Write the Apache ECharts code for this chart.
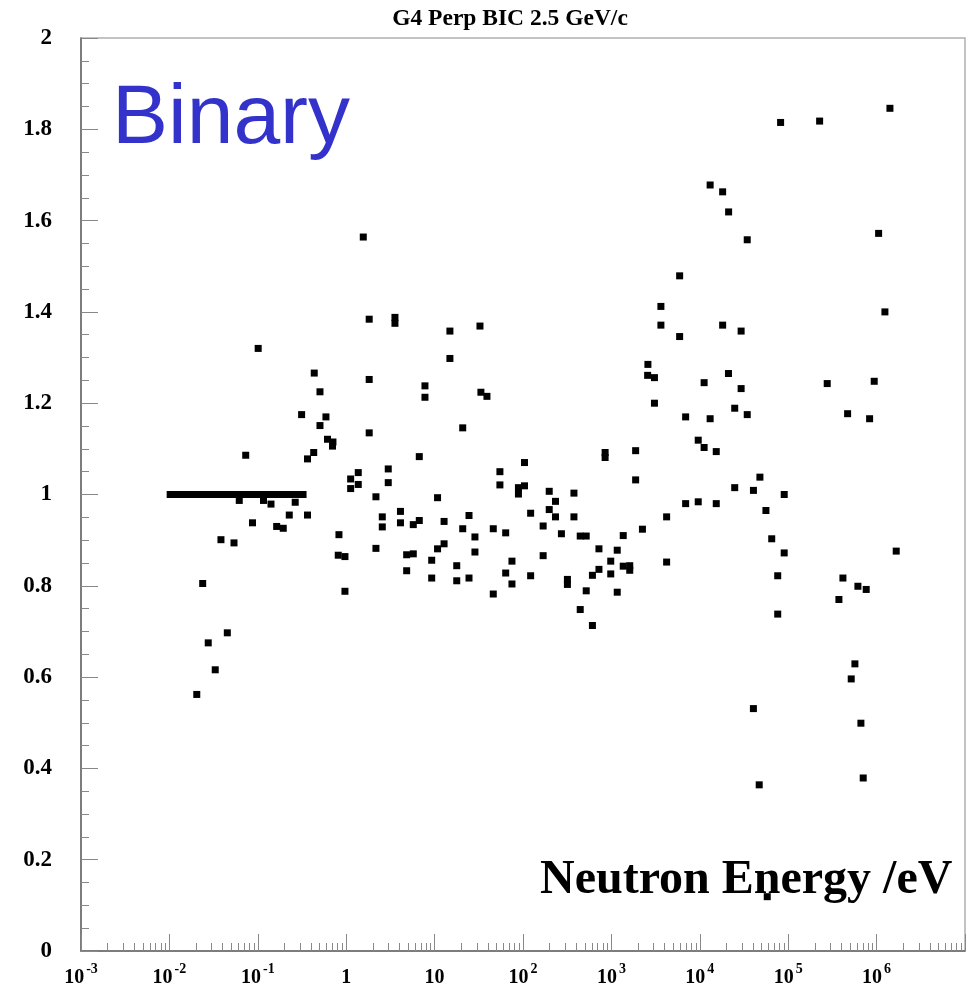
<!DOCTYPE html>
<html><head><meta charset="utf-8">
<script src="https://cdn.jsdelivr.net/npm/echarts@6/dist/echarts.min.js"></script>
<style>html,body{margin:0;padding:0;background:#fff}#c{width:968px;height:994px}</style>
</head><body><div id="c"></div>
<script>
// ---- texts ----
const chartTitle = 'G4 Perp BIC 2.5 GeV/c';
const xAxisTitle = 'Neutron Energy /eV';
const modelName = 'Binary';

// ---- axes ----
const xDecades = [1e-3, 1e-2, 1e-1, 1, 10, 1e2, 1e3, 1e4, 1e5, 1e6, 1e7];
const xLabelDecades = [1e-3, 1e-2, 1e-1, 1, 10, 1e2, 1e3, 1e4, 1e5, 1e6];
const yMin = 0, yMax = 2, yStep = 0.2;

// ---- data: flat run at ratio 1 (low energies) ----
const flatEnergy = [0.0102, 0.0113, 0.0126, 0.014, 0.0155, 0.0173, 0.0192, 0.0213, 0.0237, 0.0263,
  0.0292, 0.0325, 0.036, 0.04, 0.0445, 0.049, 0.055, 0.061, 0.068, 0.075, 0.083, 0.093, 0.103,
  0.115, 0.127, 0.141, 0.157, 0.175, 0.194, 0.215, 0.24, 0.266, 0.295, 0.325];
const flatRatio = [1, 1, 1, 1, 1, 1, 1, 1, 1, 1, 1, 1, 1, 1, 1, 1, 1, 1, 1, 1, 1, 1, 1,
  1, 1, 1, 1, 1, 1, 1, 1, 1, 1, 1];

// ---- data: scattered points (energy in eV, ratio) ----
const energy = [
  0.0204, 0.0238, 0.0275, 0.0330, 0.0383, 0.0452, 0.0538, 0.0617, 0.0730, 0.0871,
  0.101, 0.116, 0.141, 0.1635, 0.194, 0.227, 0.265, 0.313, 0.365, 0.365,
  0.429, 0.435, 0.505, 0.505, 0.590, 0.614, 0.708, 0.700, 0.828, 0.813,
  0.968, 0.968, 1.123, 1.369, 1.123, 1.369, 1.56, 1.82, 1.82, 1.82,
  2.17, 2.17, 2.56, 2.56, 2.99, 2.99, 3.56, 3.56, 4.11, 4.11,
  4.83, 4.83, 5.74, 5.74, 6.71, 6.71, 7.78, 7.78, 9.27, 9.27,
  10.8, 10.8, 12.8, 12.8, 14.9, 14.9, 17.8, 17.8, 20.8, 20.8,
  24.5, 24.5, 28.6, 28.6, 32.6, 33.4, 39.1, 46.1, 46.1, 54.8,
  54.8, 63.7, 63.7, 75.0, 75.0, 88.8, 104, 88.8, 104, 122,
  122, 169, 169, 198, 198, 233, 233, 272, 318, 318,
  377, 377, 444, 519, 444, 519, 610, 610, 723, 723,
  849, 849, 983, 983, 1164, 1164, 1361, 1361, 1613, 1613,
  1880, 1880, 2244, 2588, 2570, 3069, 3069, 3631, 3631, 4214,
  4214, 5915, 5915, 6915, 6915, 9600, 9600, 11190, 11190, 13090,
  13090, 15350, 15350, 18130, 18130, 21180, 21100, 24830, 24830, 29340,
  29340, 34400, 34400, 40440, 40400, 46990, 47860, 55980, 57920, 65100,
  76100, 76100, 82040, 90150, 90100, 226700, 276300, 374700, 415900, 469900,
  516400, 568400, 614500, 664500, 705600, 762900, 833600, 939700, 1054000, 1242000,
  1415000, 1667000];
const ratio = [
  0.562, 0.805, 0.675, 0.616, 0.901, 0.697, 0.894, 0.987, 1.086, 0.938,
  1.320, 0.987, 0.979, 0.930, 0.926, 0.955, 0.983, 1.175, 1.078, 0.955,
  1.092, 1.266, 1.225, 1.151, 1.170, 1.121, 1.115, 1.106, 0.912, 0.867,
  0.864, 0.788, 1.013, 1.022, 1.034, 1.048, 1.564, 1.384, 1.252, 1.135,
  0.995, 0.882, 0.951, 0.929, 1.056, 1.026, 1.388, 1.375, 0.963, 0.938,
  0.868, 0.833, 0.934, 0.870, 0.943, 1.083, 1.238, 1.213, 0.856, 0.817,
  0.993, 0.881, 0.892, 0.941, 1.358, 1.298, 0.844, 0.811, 1.146, 0.925,
  0.954, 0.817, 0.907, 0.874, 1.369, 1.224, 1.215, 0.925, 0.782, 1.050,
  1.021, 0.916, 0.828, 0.854, 0.804, 1.015, 1.019, 1.001, 1.070, 0.959,
  0.822, 0.931, 0.866, 1.007, 0.967, 0.985, 0.951, 0.914, 0.814, 0.803,
  1.003, 0.951, 0.909, 0.909, 0.748, 0.789, 0.823, 0.713, 0.881, 0.836,
  1.092, 1.081, 0.854, 0.826, 0.878, 0.786, 0.910, 0.843, 0.844, 0.834,
  1.096, 1.032, 0.924, 1.285, 1.261, 1.256, 1.200, 1.412, 1.371, 0.951,
  0.852, 1.479, 1.346, 1.170, 0.980, 1.119, 0.984, 1.103, 1.245, 1.678,
  1.166, 1.094, 0.980, 1.663, 1.371, 1.619, 1.265, 1.189, 1.015, 1.358,
  1.232, 1.558, 1.175, 1.009, 0.531, 0.364, 1.038, 0.965, 0.119, 0.903,
  0.822, 0.738, 1.815, 1.000, 0.872, 1.818, 1.243, 0.770, 0.817, 1.177,
  0.596, 0.629, 0.799, 0.499, 0.379, 0.792, 1.166, 1.248, 1.572, 1.400,
  1.846, 0.876];

// ---- build ----
const minorTicks = [];
for (let i = 0; i < xDecades.length - 1; i++) {
  for (let k = 2; k <= 9; k++) minorTicks.push(Number((k * xDecades[i]).toPrecision(3)));
}
const points = flatEnergy.map((e, i) => [e, flatRatio[i]])
  .concat(energy.map((e, i) => [e, ratio[i]]));

const SERIF = "'Liberation Serif', 'DejaVu Serif', 'Times New Roman', serif";
const SANS = "'Liberation Sans', Arial, sans-serif";

const chart = echarts.init(document.getElementById('c'), null, {renderer: 'canvas'});
chart.setOption({
  animation: false,
  backgroundColor: '#fff',
  grid: {left: 81, right: 3, top: 38, bottom: 43, show: true, borderColor: '#b0b0b0', borderWidth: 1.5, backgroundColor: 'transparent'},
  xAxis: [{
    type: 'log', logBase: 10, min: 1e-3, max: 1e7, position: 'bottom',
    axisLine: {show: true, onZero: false, lineStyle: {color: '#666', width: 1.5}},
    axisTick: {show: true, inside: true, length: 17, customValues: xDecades, lineStyle: {color: '#888', width: 1}},
    splitLine: {show: false},
    minorTick: {show: false},
    axisLabel: {
      show: true, margin: 11, customValues: xLabelDecades,
      formatter: function (v) {
        const ex = Math.round(Math.log10(v));
        if (ex === 0) return '{b|1}';
        if (ex === 1) return '{b|10}';
        return '{b|10}{s|' + ex + '}';
      },
      rich: {
        b: {fontFamily: SERIF, fontWeight: 'bold', fontSize: 20, color: '#000', lineHeight: 26, verticalAlign: 'bottom'},
        s: {fontFamily: SERIF, fontWeight: 'bold', fontSize: 14, color: '#000', lineHeight: 26, verticalAlign: 'top', padding: [0, 0, 0, 2]}
      }
    }
  }, {
    type: 'log', logBase: 10, min: 1e-3, max: 1e7, position: 'bottom',
    axisLine: {show: false},
    axisTick: {show: true, inside: true, length: 8, customValues: minorTicks, lineStyle: {color: '#888', width: 1}},
    axisLabel: {show: false},
    splitLine: {show: false}
  }],
  yAxis: {
    type: 'value', min: yMin, max: yMax, interval: yStep,
    axisLine: {show: true, onZero: false, lineStyle: {color: '#666', width: 1.5}},
    axisTick: {show: true, inside: true, length: 17, lineStyle: {color: '#888', width: 1}},
    minorTick: {show: true, splitNumber: 4, length: 8, lineStyle: {color: '#888', width: 1}},
    splitLine: {show: false},
    axisLabel: {
      margin: 29, fontFamily: SERIF, fontWeight: 'bold', fontSize: 23, color: '#000',
      formatter: v => String(Number(v.toFixed(1)))
    }
  },
  series: [{
    type: 'scatter', xAxisIndex: 0, yAxisIndex: 0,
    symbol: 'rect', symbolSize: 7,
    itemStyle: {color: '#000', opacity: 1},
    data: points, z: 2
  }],
  graphic: [
    {type: 'text', z: 10, x: 510, y: 19, style: {text: chartTitle, font: 'bold 23.5px ' + SERIF, fill: '#000', verticalAlign: 'middle', align: 'center'}},
    {type: 'text', z: 10, x: 112, y: 120, style: {text: modelName, font: '84px ' + SANS, fill: '#3333cc', verticalAlign: 'middle', align: 'left'}},
    {type: 'text', z: 10, x: 540, y: 881, style: {text: xAxisTitle, font: 'bold 48px ' + SERIF, fill: '#000', verticalAlign: 'middle', align: 'left'}}
  ]
});
</script>
</body></html>
